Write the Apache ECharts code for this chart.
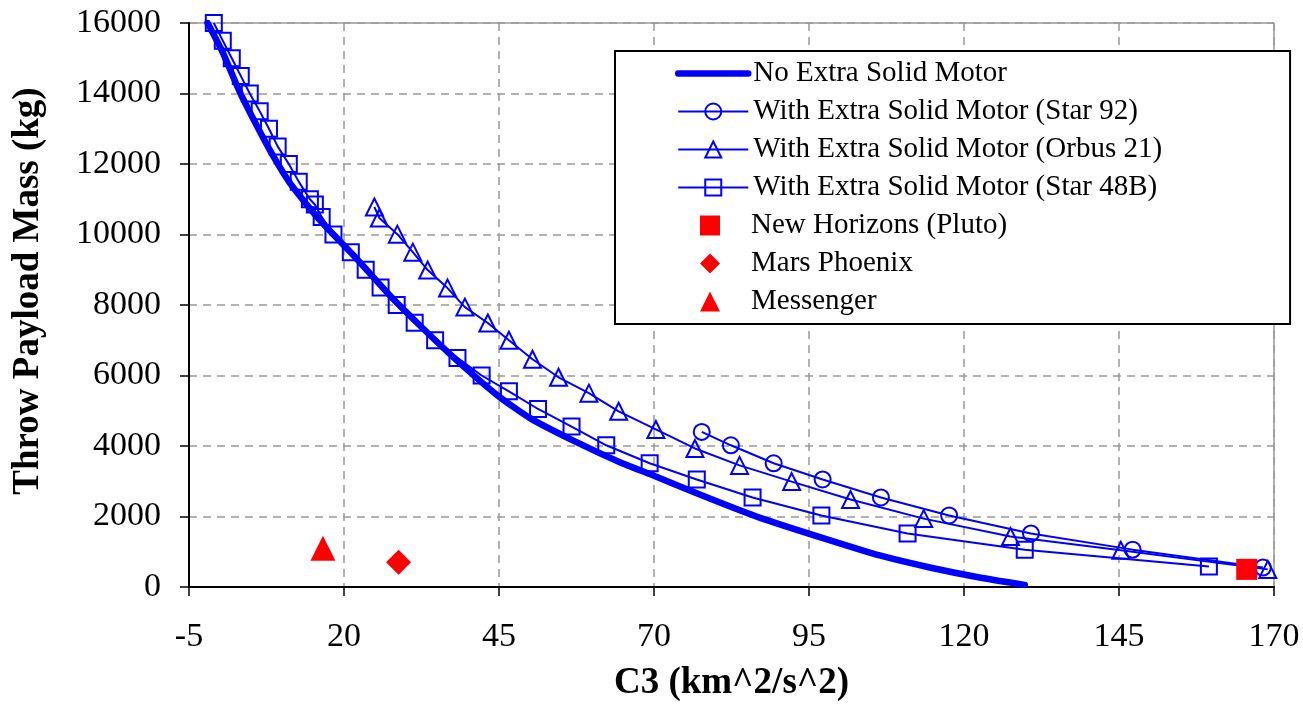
<!DOCTYPE html>
<html>
<head>
<meta charset="utf-8">
<title>Throw Payload Mass vs C3</title>
<script src="https://cdn.jsdelivr.net/npm/echarts@6/dist/echarts.min.js"></script>
<style>
  html, body { margin: 0; padding: 0; background: #fff; }
  #chart { width: 1303px; height: 707px; }
</style>
</head>
<body>
<div id="chart"></div>
<script>
// C3 (km^2/s^2) and throw payload mass (kg) for each launch configuration
const noMotorC3   = [-2.0, 0.4, 3.2, 5.9, 8.5, 11.2, 14.5, 16.6, 22.0, 27.4, 32.7, 38.2, 44.8, 50.0, 56.9, 64.5, 69.8, 79.0, 87.0, 98.3, 106.4, 114.5, 122.5, 129.8];
const noMotorMass = [16000, 15180, 14040, 13100, 12250, 11480, 10740, 10310, 9320, 8270, 7340, 6430, 5430, 4790, 4160, 3540, 3170, 2510, 1970, 1330, 895, 554, 270, 60];

const star92C3   = [77.7, 82.4, 89.3, 97.2, 106.6, 117.6, 130.8, 147.2, 168.2];
const star92Mass = [4400, 4020, 3510, 3050, 2540, 2030, 1520, 1060, 550];

const orbus21C3   = [24.9, 25.7, 28.6, 31.1, 33.5, 36.7, 39.5, 43.2, 46.6, 50.4, 54.6, 59.5, 64.3, 70.3, 76.6, 83.8, 92.2, 101.7, 113.5, 127.5, 145.3, 169.0];
const orbus21Mass = [10780, 10470, 10010, 9500, 8990, 8480, 7940, 7490, 7000, 6460, 5950, 5500, 4985, 4470, 3930, 3450, 2990, 2480, 1940, 1430, 1040, 500];

const star48bC3   = [-1.0, 0.45, 1.9, 3.35, 4.8, 6.4, 7.9, 9.3, 11.1, 12.7, 14.5, 15.3, 16.4, 18.3, 21.1, 23.5, 25.9, 28.5, 31.4, 34.7, 38.3, 42.2, 46.6, 51.3, 56.7, 62.3, 69.3, 76.9, 85.9, 97.0, 110.9, 129.8, 159.5];
const star48bMass = [16000, 15500, 15000, 14500, 14000, 13500, 13000, 12500, 12000, 11500, 11000, 10850, 10500, 10000, 9500, 9000, 8500, 8000, 7500, 7000, 6500, 6000, 5550, 5050, 4550, 4020, 3510, 3050, 2540, 2030, 1520, 1060, 580];

// Missions: [C3, mass]
const newHorizons = [165.6, 500];
const marsPhoenix = [28.8, 700];
const messenger   = [16.6, 1100];

const seriesNames = [
  'No Extra Solid Motor',
  'With Extra Solid Motor (Star 92)',
  'With Extra Solid Motor (Orbus 21)',
  'With Extra Solid Motor (Star 48B)',
  'New Horizons (Pluto)',
  'Mars Phoenix',
  'Messenger'
];

const xTicks = { min: -5, max: 170, step: 25 };
const yTicks = { min: 0, max: 16000, step: 2000 };

const zip = (xs, ys) => xs.map((x, i) => [x, ys[i]]);

const BLUE = '#0000FF';
const RED = '#FF0000';
const SERIF = '"Liberation Serif", "Times New Roman", serif';

// Legend layout: curve entries get a wide line sample, mission entries a square icon box
const LEGEND_LEFT = 615, LEGEND_TOP = 51, LEGEND_PAD = 8, LEGEND_INNER_LEFT = 60;
const ROW_TEXT = 29, ROW_GAP = 9, ROW = ROW_TEXT + ROW_GAP;
const LINE_SAMPLE = 70, ICON = 20;

function hollowLine(name, xs, ys, symbol, size) {
  return {
    name: name,
    type: 'line',
    data: zip(xs, ys),
    symbol: symbol,
    symbolSize: size,
    showAllSymbol: true,
    lineStyle: { color: BLUE, width: 2 },
    itemStyle: { color: 'rgba(255,255,255,0)', borderColor: BLUE, borderWidth: 2 },
    emphasis: { disabled: true },
    z: 3
  };
}

function mission(name, point, symbol, size) {
  return {
    name: name, type: 'scatter', data: [point],
    symbol: symbol, symbolSize: size,
    itemStyle: { color: RED, opacity: 1 },
    emphasis: { disabled: true },
    z: 4
  };
}

const chart = echarts.init(document.getElementById('chart'), null, { renderer: 'canvas' });

const curveLegend = seriesNames.slice(0, 4).map((name, i) => {
  if (i === 0) {
    return {
      name: name,
      itemStyle: { color: 'rgba(0,0,0,0)', borderWidth: 0 },
      lineStyle: { width: 6.5, cap: 'round', color: BLUE }
    };
  }
  return { name: name };
});
const missionLegend = seriesNames.slice(4);

const legendText = { fontFamily: SERIF, fontSize: ROW_TEXT, color: '#000' };

chart.setOption({
  backgroundColor: '#fff',
  animation: false,
  grid: {
    left: 189, right: 29, top: 23, bottom: 120,
    show: true, borderColor: '#666', borderWidth: 1, backgroundColor: 'transparent'
  },
  legend: [
    {
      orient: 'vertical',
      left: LEGEND_LEFT, top: LEGEND_TOP,
      padding: [LEGEND_PAD, 128, LEGEND_PAD + missionLegend.length * ROW, LEGEND_INNER_LEFT],
      itemWidth: LINE_SAMPLE, itemHeight: 20, itemGap: ROW_GAP,
      backgroundColor: '#fff',
      borderColor: '#000', borderWidth: 2, borderRadius: 0,
      textStyle: legendText,
      data: curveLegend
    },
    {
      orient: 'vertical',
      left: LEGEND_LEFT + LEGEND_INNER_LEFT + (LINE_SAMPLE - ICON) / 2,
      top: LEGEND_TOP + LEGEND_PAD + curveLegend.length * ROW,
      padding: 0,
      itemWidth: ICON, itemHeight: ICON, itemGap: ROW_GAP,
      textStyle: Object.assign({ padding: [0, 0, 0, (LINE_SAMPLE - ICON) / 2 + 1] }, legendText),
      data: missionLegend
    }
  ],
  xAxis: {
    type: 'value',
    min: xTicks.min, max: xTicks.max, interval: xTicks.step,
    name: 'C3 (km^2/s^2)',
    nameLocation: 'middle', nameGap: 78,
    nameTextStyle: { fontFamily: SERIF, fontSize: 37, fontWeight: 'bold', color: '#000' },
    axisLine: { show: true, onZero: false, lineStyle: { color: '#000', width: 2 } },
    axisTick: { show: true, inside: false, length: 9, lineStyle: { color: '#000', width: 1.5 } },
    axisLabel: { fontFamily: SERIF, fontSize: 34, color: '#000', margin: 33 },
    splitLine: { show: true, lineStyle: { color: '#999', width: 1.5, type: [8, 6] } }
  },
  yAxis: {
    type: 'value',
    min: yTicks.min, max: yTicks.max, interval: yTicks.step,
    name: 'Throw Payload Mass (kg)',
    nameLocation: 'middle', nameGap: 142,
    nameTextStyle: { fontFamily: SERIF, fontSize: 37, fontWeight: 'bold', color: '#000', padding: [0, 0, 0, 28] },
    axisLine: { show: true, onZero: false, lineStyle: { color: '#000', width: 2 } },
    axisTick: { show: true, inside: false, length: 9, lineStyle: { color: '#000', width: 1.5 } },
    axisLabel: { fontFamily: SERIF, fontSize: 34, color: '#000', margin: 28, formatter: (v) => String(v) },
    splitLine: { show: true, lineStyle: { color: '#999', width: 1.5, type: [8, 6] } }
  },
  series: [
    {
      name: seriesNames[0],
      type: 'line',
      data: zip(noMotorC3, noMotorMass),
      symbol: 'none',
      smooth: 0.2,
      lineStyle: { color: BLUE, width: 6.5, cap: 'round', join: 'round' },
      itemStyle: { color: BLUE },
      emphasis: { disabled: true },
      z: 2
    },
    hollowLine(seriesNames[1], star92C3, star92Mass, 'circle', 16),
    hollowLine(seriesNames[2], orbus21C3, orbus21Mass, 'triangle', 17),
    hollowLine(seriesNames[3], star48bC3, star48bMass, 'rect', 16),
    mission(seriesNames[4], newHorizons, 'rect', 21),
    mission(seriesNames[5], marsPhoenix, 'diamond', 25),
    mission(seriesNames[6], messenger, 'triangle', 25)
  ]
});
</script>
</body>
</html>
